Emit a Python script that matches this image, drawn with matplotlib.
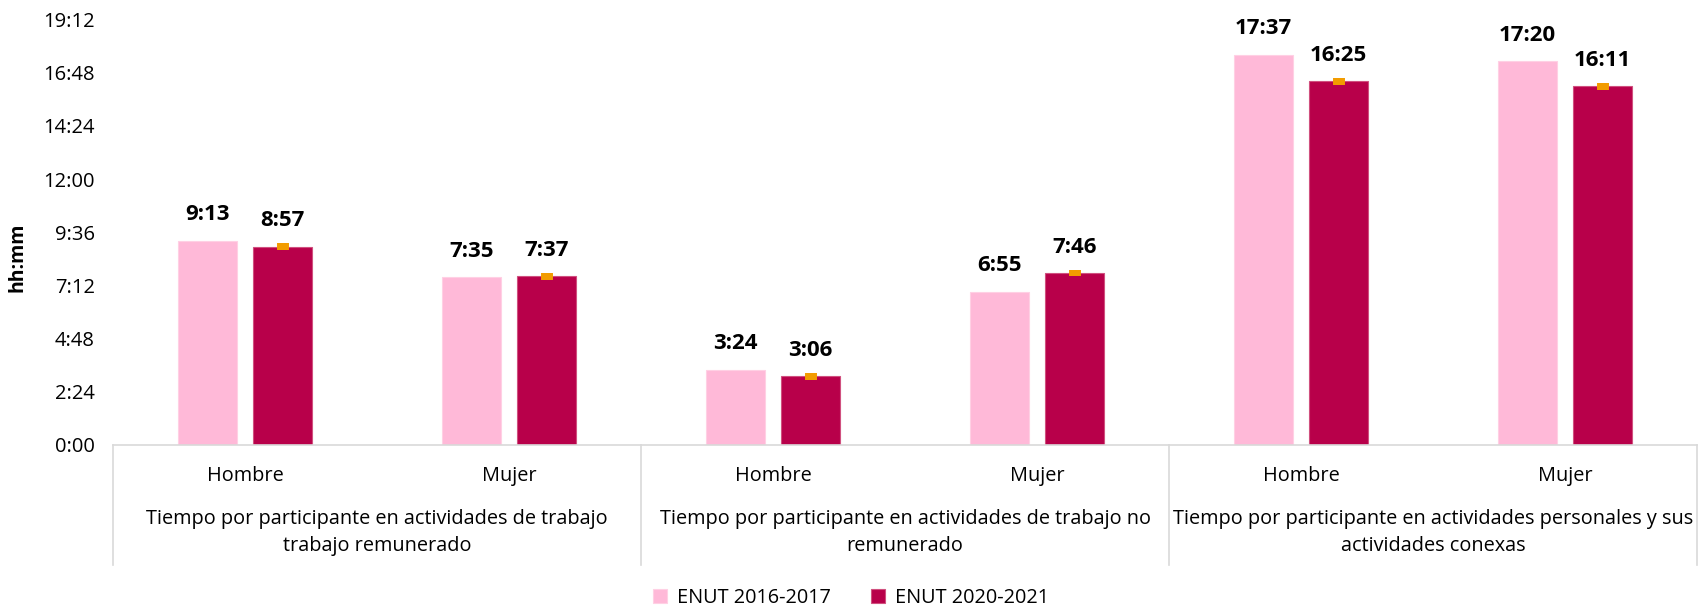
import matplotlib.pyplot as plt
import numpy as np

plt.rcParams['font.family'] = ['Open Sans', 'DejaVu Sans']

# valores en minutos (hh:mm)
sexo = ["Hombre", "Mujer", "Hombre", "Mujer", "Hombre", "Mujer"]
grupos = [
    "Tiempo por participante en actividades de trabajo\ntrabajo remunerado",
    "Tiempo por participante en actividades de trabajo no\nremunerado",
    "Tiempo por participante en actividades personales y sus\nactividades conexas",
]
enut_2016 = [553, 455, 204, 415, 1057, 1040]
enut_2020 = [537, 457, 186, 466, 985, 971]
error_2020 = [9, 9, 9, 9, 9, 9]
serie_nombres = ["ENUT 2016-2017", "ENUT 2020-2021"]
yticks_min = [0, 144, 288, 432, 576, 720, 864, 1008, 1152]


def hhmm(m):
    return f"{int(m) // 60}:{int(m) % 60:02d}"


color_claro = "#FFB9D8"
color_oscuro = "#B8004A"
color_error = "#F29C00"

fig = plt.figure(figsize=(17.02, 6.09), dpi=100)
ax = fig.add_axes([113 / 1702, 1 - 445 / 609, 1584 / 1702, (445 - 19.5) / 609])

x = np.arange(len(sexo))
ancho = 0.225
desp = 0.143

b1 = ax.bar(x - desp, enut_2016, ancho, color=color_claro, edgecolor="#ffd0e4",
            linewidth=0.8, label=serie_nombres[0])
b2 = ax.bar(x + desp, enut_2020, ancho, color=color_oscuro, edgecolor="#d0507f",
            linewidth=0.8, label=serie_nombres[1])
ax.errorbar(x + desp, enut_2020, yerr=error_2020, fmt="none", ecolor=color_error,
            elinewidth=8.6, capsize=0, zorder=3)

for xi, v in zip(x - desp, enut_2016):
    ax.annotate(hhmm(v), (xi, v), xytext=(0, 11), textcoords="offset points",
                ha="center", va="bottom", fontsize=16, fontweight="bold")
for xi, v in zip(x + desp, enut_2020):
    ax.annotate(hhmm(v), (xi, v), xytext=(0, 11), textcoords="offset points",
                ha="center", va="bottom", fontsize=16, fontweight="bold")

ax.set_xlim(-0.5, len(sexo) - 0.5)
ax.set_ylim(0, 1152)
ax.set_yticks(yticks_min)
ax.set_yticklabels([hhmm(t) for t in yticks_min], fontsize=14.5)
ax.tick_params(axis="y", length=0, pad=13)
ax.set_xticks(x)
ax.set_xticklabels(sexo, fontsize=14.3)
ax.tick_params(axis="x", length=0, pad=15)

for s in ["top", "right", "left"]:
    ax.spines[s].set_visible(False)
ax.spines["bottom"].set_color("#d9d9d9")
ax.spines["bottom"].set_linewidth(1.2)

ax.set_ylabel("hh:mm", fontsize=14, fontweight="bold")
ax.yaxis.set_label_coords(-0.054, 0.44)

# separadores y etiquetas de grupo
trans = ax.get_xaxis_transform()
fondo = -(565 - 445) / 425.5
for b in np.arange(0, len(sexo) + 1, 2) - 0.5:
    ax.plot([b, b], [0, fondo], transform=trans, color="#d9d9d9", lw=1.2, clip_on=False)
for i, g in enumerate(grupos):
    ax.text(2 * i + 0.5, -(521 - 445 - 12) / 425.5, g, transform=trans, ha="center",
            va="top", fontsize=14.3, linespacing=1.45)

fig.legend(handles=[b1, b2], labels=serie_nombres, loc="center", ncol=2,
           bbox_to_anchor=(0.5, 1 - 598 / 609), frameon=False, fontsize=14.3,
           handlelength=0.7, handleheight=0.7, columnspacing=2.0, handletextpad=0.5)

fig.savefig("out.png", dpi=100)
